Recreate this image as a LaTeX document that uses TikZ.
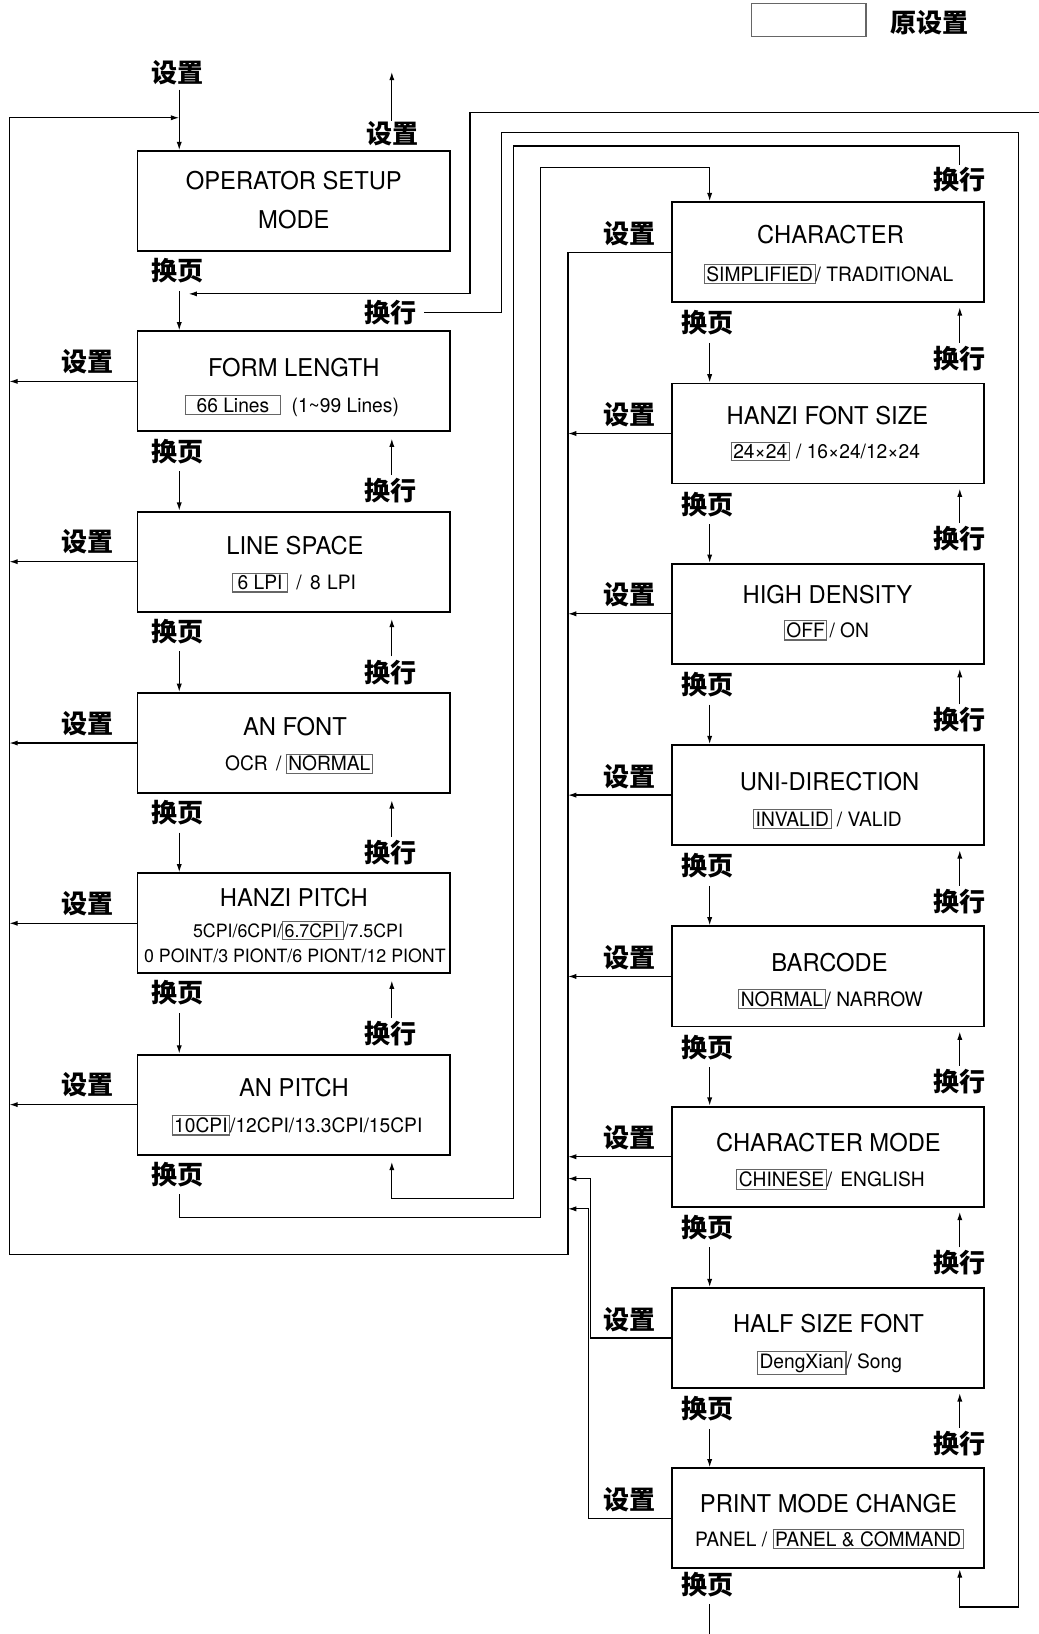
\documentclass[tikz,border=0pt]{standalone}
\usepackage{fontspec}
\usepackage{xcolor}
\usetikzlibrary{arrows.meta,calc}
\newfontfamily\hv{TeX Gyre Heros}[FakeStretch=0.97]
\newfontfamily\cjk{Noto Sans CJK SC}
\newcommand\ttlf{\hv\fontsize{23.5}{28}\selectfont}
\newcommand\subf{\hv\fontsize{19}{23}\selectfont}
\newcommand\smf{\hv\fontsize{17.6}{21}\selectfont}
\newcommand\labf{\cjk\bfseries\fontsize{25}{30}\selectfont}
\definecolor{dgray}{gray}{0.4}
\newcommand\dft[1]{{\fboxsep=1.5pt\fboxrule=1pt\fcolorbox{dgray}{white}{#1}}}
\tikzset{
  box/.style={draw, line width=1.8pt, minimum width=300pt, minimum height=96pt, inner sep=0pt},
  rbox/.style={box, minimum width=299pt},
  ttl/.style={font=\ttlf, inner sep=0pt, anchor=base, yshift=-8.4pt},
  sub/.style={font=\subf, inner sep=0pt, anchor=base, yshift=-6.8pt},
  smsub/.style={font=\smf, inner sep=0pt, anchor=base, yshift=-6.3pt},
  lab/.style={font=\labf, inner sep=0pt},
  conn/.style={line width=1.2pt},
  arr/.style={conn, -{Latex[length=8pt,width=5pt]}},
  legbox/.style={draw=dgray, line width=1pt, minimum width=110pt, minimum height=32pt, inner sep=0pt}
}
\begin{document}
\begin{tikzpicture}[x=1pt,y=-1pt]
\useasboundingbox (0,0) rectangle (997,1568);
% column coordinates
\coordinate (xa) at (172,0);
\coordinate (xb) at (376,0);
\coordinate (xc) at (681,0);
\coordinate (xd) at (921,0);
\coordinate (LB) at (9,1204);
\coordinate (RB) at (545,1204);
\coordinate (in0) at (172,113);
% legend
\node[legbox] (leg) at (776,19) {};
\node[lab] (legt) at (892,22) {原设置};
% left boxes
\foreach \n/\y in {1/193,2/366,3/539,4/713,5/886,6/1060}
  \node[box] (l\n) at (282,\y) {};
% right boxes
\foreach \n/\y in {1/242,2/416,3/589,4/763,5/937,6/1110,7/1284,8/1457}
  \node[rbox] (r\n) at (794.5,\y) {};
% left texts
\node[ttl] (l1a) at (282,173) {OPERATOR SETUP};
\node[ttl] (l1b) at (282,211) {MODE};
\node[ttl] (l2a) at (282,353) {FORM LENGTH};
\node[sub] (l2b) at (280,389) {\dft{\hspace{9pt}66 Lines\hspace{9pt}}\hspace{10pt}(1\textasciitilde 99 Lines)};
\node[ttl] (l3a) at (283,524) {LINE SPACE};
\node[sub] (l3b) at (282,559) {\dft{\hspace{3pt}6 LPI\hspace{3pt}}\hspace{8pt}/\hspace{8pt}8\hspace{6pt}LPI};
\node[ttl] (l4a) at (283,697) {AN FONT};
\node[sub] (l4b) at (287,733) {OCR\hspace{8pt}/\hspace{4pt}\dft{NORMAL}};
\node[ttl] (l5a) at (282,861) {HANZI PITCH};
\node[smsub] (l5b) at (286,893) {5CPI/6CPI/\dft{6.7CPI\hspace{2pt}}/7.5CPI};
\node[smsub] (l5c) at (283,917) {0 POINT/3 PIONT/6 PIONT/12 PIONT};
\node[ttl] (l6a) at (282,1044) {AN PITCH};
\node[sub] (l6b) at (285,1080) {\dft{10CPI}/12CPI/13.3CPI/15CPI};
% right texts
\node[ttl] (r1a) at (797,225) {CHARACTER};
\node[sub] (r1b) at (795,263) {\dft{SIMPLIFIED}/ TRADITIONAL};
\node[ttl] (r2a) at (794,399) {HANZI FONT SIZE};
\node[sub] (r2b) at (792,433) {\dft{24×24}\hspace{6pt}/ 16×24/12×24};
\node[ttl] (r3a) at (794,571) {HIGH DENSITY};
\node[sub] (r3b) at (793,605) {\dft{OFF}\hspace{2pt}/ ON};
\node[ttl] (r4a) at (796,750) {UNI-DIRECTION};
\node[sub] (r4b) at (794,786) {\dft{INVALID}\hspace{5pt}/ VALID};
\node[ttl] (r5a) at (796,924) {BARCODE};
\node[sub] (r5b) at (797,959) {\dft{NORMAL}/ NARROW};
\node[ttl] (r6a) at (795,1097) {CHARACTER MODE};
\node[sub] (r6b) at (797,1132) {\dft{CHINESE}/\hspace{8pt}ENGLISH};
\node[ttl] (r7a) at (795,1270) {HALF SIZE FONT};
\node[sub] (r7b) at (796,1306) {\dft{DengXian}/ Song};
\node[ttl] (r8a) at (795,1443) {PRINT MODE CHANGE};
\node[sub] (r8b) at (796,1477) {PANEL / \dft{PANEL \& COMMAND}};
% left labels
\node[lab] (sp0) at (170,70) {设置};
\node[lab] (sp1) at (377,128) {设置};
\coordinate (exit) at (376,69);
\foreach \n/\y in {1/260,2/433,3/606,4/780,5/953,6/1127}
  \node[lab] (hy\n) at (170,\y) {换页};
\foreach \n/\y in {2/300,3/471,4/645,5/818,6/992}
  \node[lab] (hh\n) at (375,\y) {换行};
\foreach \n/\y in {2/347,3/520,4/694,5/867,6/1041}
  \node[lab] (sl\n) at (84,\y) {设置};
% right labels
\foreach \n/\y in {1/310,2/484,3/657,4/831,5/1005,6/1178,7/1352,8/1521}
  \node[lab] (hp\n) at (679,\y) {换页};
\foreach \n/\y in {1/172,2/344,3/517,4/691,5/865,6/1038,7/1212,8/1385}
  \node[lab] (hq\n) at (921,\y) {换行};
\foreach \n/\y in {1/224,2/398,3/571,4/745,5/919,6/1092,7/1266,8/1439}
  \node[lab] (sr\n) at (604,\y) {设置};
% entry / exit
\draw[arr] ($(sp0.south -| xa)+(0,4)$) -- (l1.north -| xa);
\draw[arr] (sp1.north -| xb) -- (exit);
% left page-down arrows
\foreach \i/\j in {1/2,2/3,3/4,4/5,5/6}
  \draw[arr] ($(hy\i.south -| xa)+(0,7)$) -- (l\j.north -| xa);
% left line-feed arrows
\foreach \i/\k in {3/2,4/3,5/4,6/5}
  \draw[arr] ($(hh\i.north -| xb)+(0,-3)$) -- ($(l\k.south -| xb)+(0,6)$);
% left set arrows
\foreach \i in {2,...,6}
  \draw[arr] (l\i.west) -- (l\i.west -| LB);
% right page-down arrows
\foreach \i/\j in {1/2,2/3,3/4,4/5,5/6,6/7,7/8}
  \draw[arr] ($(hp\i.south -| xc)+(0,7)$) -- (r\j.north -| xc);
% right line-feed arrows
\foreach \i/\k in {2/1,3/2,4/3,5/4,6/5,7/6,8/7}
  \draw[arr] ($(hq\i.north -| xd)+(0,-3)$) -- ($(r\k.south -| xd)+(0,4)$);
% right set arrows
\foreach \i in {2,...,6}
  \draw[arr] (r\i.west) -- (r\i.west -| RB);
\coordinate (s7) at (567,1131);
\coordinate (s8) at (565,1160);
\draw[arr] (r7.west) -| (s7) -- (s7 -| RB);
\draw[arr] (r8.west) -| (s8) -- (s8 -| RB);
% outer return loop of set
\draw[arr] (r1.west) -- (r1.west -| RB) -- (RB) -- (LB) |- (in0);
% incoming line from the right edge
\coordinate (topin) at (997,108);
\coordinate (m1) at (181,282);
\draw[arr] (topin) -- (451,108) -- (451,282) -- (m1);
% line feed of form length to print mode change
\draw[arr] ($(hh2.east)+(7,0)$) -- (481,300) -- (481,127) -- (977,127) -- (977,1542) -- (921,1542) -- ($(r8.south -| xd)+(0,0)$);
% line feed of character to an pitch
\draw[arr] ($(hq1.north -| xd)+(0,-2)$) -- (921,140) -- (493,140) -- (493,1150) -- (376,1150) -- ($(l6.south -| xb)+(0,6)$);
% page down of an pitch to character
\draw[arr] ($(hy6.south -| xa)+(0,7)$) -- (172,1168) -- (519,1168) -- (519,161) -- (681,161) -- (r1.north -| xc);
% page down of print mode change
\coordinate (bot) at (681,1568);
\draw[conn] ($(hp8.south -| xc)+(0,6)$) -- (bot);
\end{tikzpicture}
\end{document}
